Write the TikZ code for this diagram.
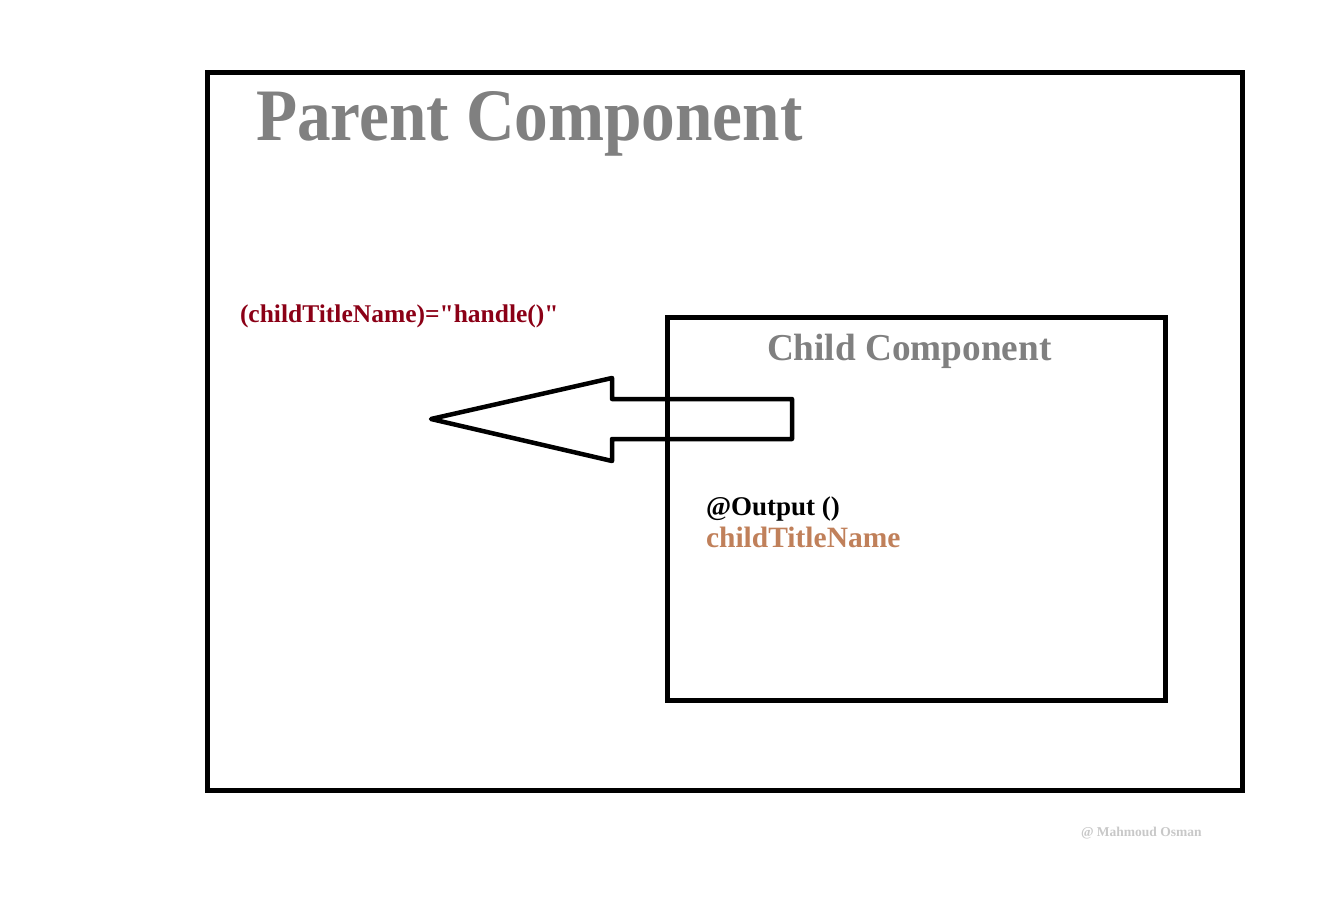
\documentclass[tikz,border=0pt]{standalone}
\usepackage{fontspec}
\setmainfont{Liberation Serif}
\definecolor{titlegray}{HTML}{808080}
\definecolor{darkred}{HTML}{8B0016}
\definecolor{copper}{HTML}{C0805A}
\definecolor{lightgray}{HTML}{C8C8C8}
\tikzset{
  frame/.style={draw=black, line width=5pt, anchor=north west, inner sep=0pt, outer sep=0pt},
  arrowshape/.style={draw=black, line width=4.5pt, line join=round},
  lbl/.style={anchor=base west, inner sep=0pt, outer sep=0pt},
}
\begin{document}
\begin{tikzpicture}[x=1pt,y=-1pt]
\useasboundingbox (0,0) rectangle (1327,902);
\node[frame, minimum width=1035pt, minimum height=717.5pt] (parent) at (207.5,72.5) {};
\node[frame, minimum width=497.5pt, minimum height=382.5pt] (child) at (667.5,317.5) {};
\node[lbl, text=titlegray, font=\bfseries\fontsize{74}{80}\selectfont] (ptitle) at (256,140) {\scalebox{0.91}[1]{Parent Component}};
\node[lbl, text=titlegray, font=\bfseries\fontsize{38}{44}\selectfont] (ctitle) at (767,360) {\scalebox{0.98}[1]{Child Component}};
\node[lbl, text=darkred, font=\bfseries\fontsize{25.5}{30}\selectfont] (binding) at (240,322) {(childTitleName)=\textquotedbl handle()\textquotedbl};
\node[lbl, text=black, font=\bfseries\fontsize{27}{32}\selectfont] (output) at (706,515) {@Output ()};
\node[lbl, text=copper, font=\bfseries\fontsize{29.5}{34}\selectfont] (prop) at (706,547) {childTitleName};
\node[lbl, text=lightgray, font=\bfseries\fontsize{13.5}{16}\selectfont] (copy) at (1081,836) {@ Mahmoud Osman};
\draw[arrowshape] (431,419) -- (612,378) -- (612,399) -- (792,399) -- (792,439) -- (612,439) -- (612,461) -- cycle;
\end{tikzpicture}
\end{document}
